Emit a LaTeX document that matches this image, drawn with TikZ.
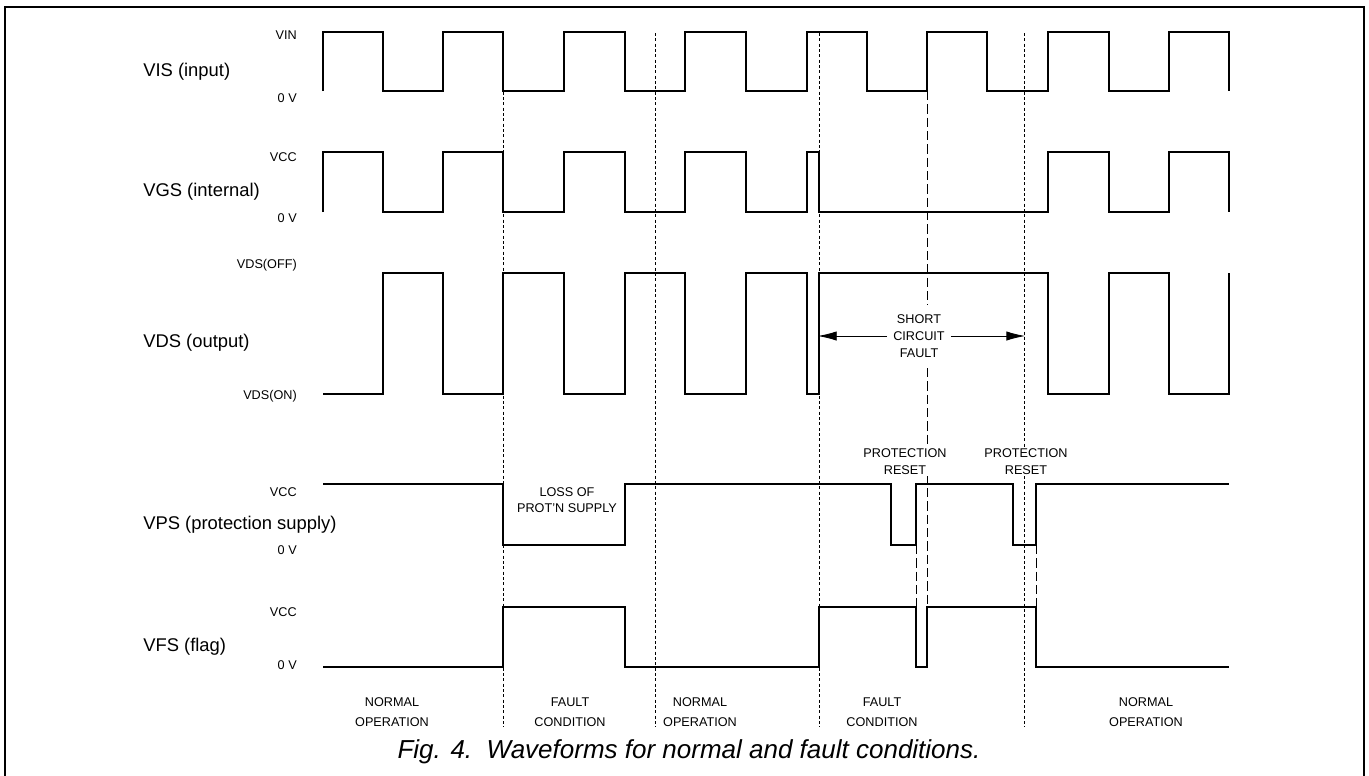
\documentclass[tikz,border=0pt]{standalone}
\usepackage{fontspec}
\setmainfont{Liberation Sans}
\usetikzlibrary{arrows.meta}

\begin{document}
\begin{tikzpicture}[x=0.75pt,y=-0.75pt,line join=miter,
  wave/.style={line width=0.8pt},
  marker/.style={dash pattern=on 2.2pt off 1.8pt,line width=0.6pt},
  longdash/.style={dash pattern=on 7pt off 3pt,line width=0.6pt},
  sig/.style={anchor=west,inner sep=0pt,font=\fontsize{13.8}{16}\selectfont},
  lvl/.style={anchor=east,inner sep=0pt,font=\fontsize{9.5}{11}\selectfont},
  note/.style={align=center,inner sep=0pt,font=\fontsize{9.5}{12.5}\selectfont},
  mode/.style={align=center,inner sep=0pt,font=\fontsize{9.5}{15}\selectfont},
  arr/.style={line width=0.6pt,-{Latex[length=14pt,width=7pt]}}]
  \useasboundingbox (0,0) rectangle (1369,775);
  % frame
  \draw[line width=1.5pt] (5,780) -- (5,7) -- (1364,7) -- (1364,780);

  % signal names
  \node[sig] (vis) at (143,72) {VIS (input)};
  \node[sig] (vgs) at (143,192) {VGS (internal)};
  \node[sig] (vds) at (143,343) {VDS (output)};
  \node[sig] (vps) at (143,525) {VPS (protection supply)};
  \node[sig] (vfs) at (143,647) {VFS (flag)};

  % levels
  \node[lvl] at (297,35) {VIN};
  \node[lvl] at (297,98) {0 V};
  \node[lvl] at (297,157) {VCC};
  \node[lvl] at (297,218) {0 V};
  \node[lvl] at (297,265) {VDS(OFF)};
  \node[lvl] at (297,396) {VDS(ON)};
  \node[lvl] at (297,492) {VCC};
  \node[lvl] at (297,550) {0 V};
  \node[lvl] at (297,612) {VCC};
  \node[lvl] at (297,665) {0 V};

  % waveforms
  \draw[wave] (323,91) |- (383,32) |- (443,91) |- (503,32) |- (564,91)
    |- (625,32) |- (685,91) |- (746,32) |- (807,91) |- (867,32) |- (927,91)
    |- (987,32) |- (1048,91) |- (1109,32) |- (1169,91) |- (1229,32) -- (1229,91);
  \draw[wave] (323,212) |- (383,152) |- (443,212) |- (503,152) |- (564,212)
    |- (625,152) |- (685,212) |- (746,152) |- (807,212) |- (819,152)
    |- (1048,212) |- (1109,152) |- (1169,212) |- (1229,152) -- (1229,212);
  \draw[wave] (323,394) -- (383,394) |- (443,273) |- (503,394) |- (564,273)
    |- (625,394) |- (685,273) |- (746,394) |- (807,273) |- (819,394)
    |- (1048,273) |- (1109,394) |- (1169,273) |- (1229,394) -- (1229,273);
  \draw[wave] (323,484) -- (503,484) |- (625,545) |- (891,484) |- (916,545)
    |- (1013,484) |- (1036,545) |- (1229,484);
  \draw[wave] (323,667) -- (503,667) |- (625,607) |- (819,667) |- (916,607)
    |- (927,667) |- (1036,607) |- (1229,667);

  % phase boundaries
  \foreach \x in {503,655,819,1024}
    \draw[marker] (\x,33) -- (\x,727);
  \draw[longdash] (927,91) -- (927,305);
  \draw[longdash] (927,368) -- (927,607);
  \draw[longdash] (916,545) -- (916,607);
  \draw[longdash] (1036,545) -- (1036,607);

  % notes
  \node[note,inner xsep=4.5pt] (scf) at (919,336) {SHORT\\CIRCUIT\\FAULT};
  \coordinate (scl) at (818,336);
  \coordinate (scr) at (1025,336);
  \draw[arr] (scf.west) -- (scl);
  \draw[arr] (scf.east) -- (scr);
  \node[note] (loss) at (567,500) {LOSS OF\\PROT'N SUPPLY};
  \node[note,fill=white,inner sep=1.5pt] (rst1) at (905,461.5) {PROTECTION\\RESET};
  \node[note,fill=white,inner sep=1.5pt] (rst2) at (1026,461.5) {PROTECTION\\RESET};

  % operating modes
  \node[mode] (m1) at (392,712) {NORMAL\\OPERATION};
  \node[mode] (m2) at (570,712) {FAULT\\CONDITION};
  \node[mode] (m3) at (700,712) {NORMAL\\OPERATION};
  \node[mode] (m4) at (882,712) {FAULT\\CONDITION};
  \node[mode] (m5) at (1146,712) {NORMAL\\OPERATION};

  \node[font=\fontsize{19.5}{24}\selectfont\itshape,inner sep=0pt] (cap) at (689,752)
    {Fig. 4.\ \ Waveforms for normal and fault conditions.};
\end{tikzpicture}
\end{document}
